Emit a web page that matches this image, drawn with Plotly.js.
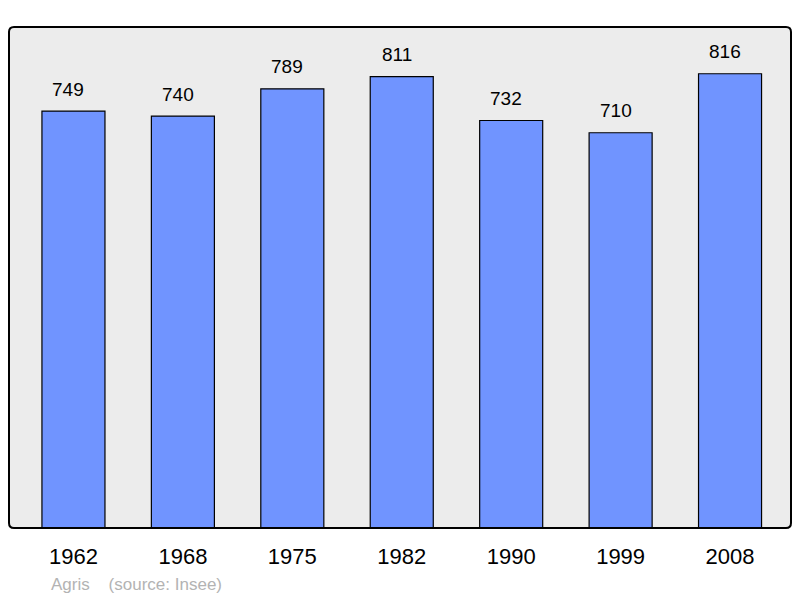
<!DOCTYPE html>
<html>
<head>
<meta charset="utf-8">
<script src="https://cdn.plot.ly/plotly-3.0.1.min.js"></script>
<style>html,body{margin:0;padding:0;background:#fff;}#chart{width:800px;height:598px;}</style>
</head>
<body>
<div id="chart"></div>
<script>
var years = ["1962", "1968", "1975", "1982", "1990", "1999", "2008"];
var population = [749, 740, 789, 811, 732, 710, 816];
var caption = "Agris    (source: Insee)";

var idx = years.map(function (_, i) { return i; });

var trace = {
  type: "bar",
  x: idx,
  y: population,
  width: 0.576,
  marker: { color: "#7094ff", line: { color: "#000000", width: 1.2 } },
  hoverinfo: "none"
};

var annotations = population.map(function (v, i) {
  return {
    x: i, y: v, xref: "x", yref: "y",
    text: String(v), showarrow: false,
    yanchor: "middle", yshift: 22, xshift: -5,
    font: { family: "Liberation Sans, Arial, sans-serif", size: 19, color: "#000" }
  };
});

var W = 782, H = 501;
annotations.push({
  x: (49 - 9) / W, y: (528 - 584) / H, xref: "paper", yref: "paper",
  text: caption, showarrow: false, xanchor: "left", yanchor: "middle",
  font: { family: "Liberation Sans, Arial, sans-serif", size: 17, color: "#b3b3b3" }
});

var rx = 5 / W, ry = 5 / H;
function roundRect() {
  return "M " + rx + ",0 L " + (1 - rx) + ",0 Q 1,0 1," + ry +
    " L 1," + (1 - ry) + " Q 1,1 " + (1 - rx) + ",1" +
    " L " + rx + ",1 Q 0,1 0," + (1 - ry) +
    " L 0," + ry + " Q 0,0 " + rx + ",0 Z";
}

var layout = {
  width: 800, height: 598,
  margin: { l: 9, r: 9, t: 27, b: 70 },
  paper_bgcolor: "#ffffff",
  plot_bgcolor: "rgba(0,0,0,0)",
  showlegend: false,
  xaxis: {
    range: [-0.589, 6.557],
    tickmode: "array", tickvals: idx, ticktext: years,
    showgrid: false, zeroline: false, showline: false, ticks: "",
    ticklabelstandoff: 13,
    tickfont: { family: "Liberation Sans, Arial, sans-serif", size: 22, color: "#000" },
    fixedrange: true
  },
  yaxis: {
    range: [0, 900],
    showgrid: false, zeroline: false, showline: false, showticklabels: false, ticks: "",
    fixedrange: true
  },
  shapes: [
    { type: "path", xref: "paper", yref: "paper", path: roundRect(),
      fillcolor: "#ececec", line: { width: 0 }, layer: "below" },
    { type: "path", xref: "paper", yref: "paper", path: roundRect(),
      fillcolor: "rgba(0,0,0,0)", line: { color: "#000000", width: 2 }, layer: "above" }
  ],
  annotations: annotations
};

Plotly.newPlot("chart", [trace], layout, { staticPlot: true, displayModeBar: false });
</script>
</body>
</html>
